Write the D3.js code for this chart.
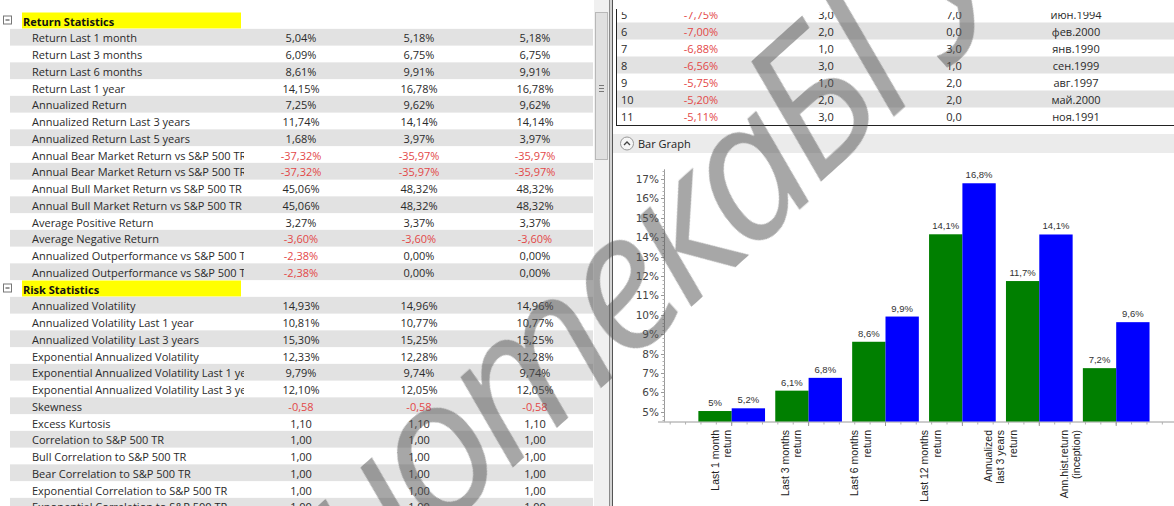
<!DOCTYPE html>
<html><head><meta charset="utf-8">
<script src="https://cdn.jsdelivr.net/npm/d3@7"></script>
<style>body{margin:0;background:#fff;}svg{display:block;}</style>
</head><body>
<script>
// ---------- DATA ----------
const returnLabels = ["Return Last 1 month","Return Last 3 months","Return Last 6 months","Return Last 1 year","Annualized Return","Annualized Return Last 3 years","Annualized Return Last 5 years","Annual Bear Market Return vs S&P 500 TR","Annual Bear Market Return vs S&P 500 TR","Annual Bull Market Return vs S&P 500 TR","Annual Bull Market Return vs S&P 500 TR","Average Positive Return","Average Negative Return","Annualized Outperformance vs S&P 500 TR","Annualized Outperformance vs S&P 500 TR"];
const returnCol1 = [5.04,6.09,8.61,14.15,7.25,11.74,1.68,-37.32,-37.32,45.06,45.06,3.27,-3.60,-2.38,-2.38];
const returnCol2 = [5.18,6.75,9.91,16.78,9.62,14.14,3.97,-35.97,-35.97,48.32,48.32,3.37,-3.60,0.00,0.00];
const returnCol3 = [5.18,6.75,9.91,16.78,9.62,14.14,3.97,-35.97,-35.97,48.32,48.32,3.37,-3.60,0.00,0.00];
const riskLabels = ["Annualized Volatility","Annualized Volatility Last 1 year","Annualized Volatility Last 3 years","Exponential Annualized Volatility","Exponential Annualized Volatility Last 1 year","Exponential Annualized Volatility Last 3 years","Skewness","Excess Kurtosis","Correlation to S&P 500 TR","Bull Correlation to S&P 500 TR","Bear Correlation to S&P 500 TR","Exponential Correlation to S&P 500 TR","Exponential Correlation to S&P 500 TR"];
const riskCol1 = [14.93,10.81,15.30,12.33,9.79,12.10,-0.58,1.10,1.00,1.00,1.00,1.00,1.00];
const riskCol2 = [14.96,10.77,15.25,12.28,9.74,12.05,-0.58,1.10,1.00,1.00,1.00,1.00,1.00];
const riskCol3 = [14.96,10.77,15.25,12.28,9.74,12.05,-0.58,1.10,1.00,1.00,1.00,1.00,1.00];
const riskIsPct = [true,true,true,true,true,true,false,false,false,false,false,false,false];

const ddIndex = [5,6,7,8,9,10,11];
const ddValue = [-7.75,-7.00,-6.88,-6.56,-5.75,-5.20,-5.11];
const ddCol3 = [3.0,2.0,1.0,3.0,1.0,2.0,3.0];
const ddCol4 = [7.0,0.0,3.0,1.0,2.0,2.0,0.0];
const ddDates = ["июн.1994","фев.2000","янв.1990","сен.1999","авг.1997","май.2000","ноя.1991"];

const categories = [["Last 1 month","return"],["Last 3 months","return"],["Last 6 months","return"],["Last 12 months","return"],["Annualized","last 3 years","return"],["Ann.hist.return","(inception)"]];
const greenValues = [5.04,6.09,8.61,14.15,11.74,7.25];
const blueValues  = [5.18,6.75,9.91,16.78,14.14,9.62];
const greenLabels = ["5%","6,1%","8,6%","14,1%","11,7%","7,2%"];
const blueLabels  = ["5,2%","6,8%","9,9%","16,8%","14,1%","9,6%"];
const yTicks = [5,6,7,8,9,10,11,12,13,14,15,16,17];

// ---------- SETUP ----------
const W = 1174, H = 506;
const loc = d3.formatLocale({decimal:",",thousands:" ",grouping:[3],currency:["",""],minus:"-"});
const f2 = loc.format(".2f"), f1 = loc.format(".1f");
const RED = "#e34848", TXT = "#2a2a2a", GRAY = "#e2e2e2";
const svg = d3.select("body").append("svg").attr("width",W).attr("height",H);
const defs = svg.append("defs");
defs.append("clipPath").attr("id","lblclip").append("rect").attr("x",0).attr("y",0).attr("width",244).attr("height",H);
defs.append("clipPath").attr("id","ddclip").append("rect").attr("x",613).attr("y",12).attr("width",W-613).attr("height",114);

// ---------- LEFT TABLE ----------
const rows = [];
rows.push({header:true,label:"Return Statistics"});
returnLabels.forEach((l,i)=>rows.push({label:l,v:[returnCol1[i],returnCol2[i],returnCol3[i]],pct:true}));
rows.push({header:true,label:"Risk Statistics"});
riskLabels.forEach((l,i)=>rows.push({label:l,v:[riskCol1[i],riskCol2[i],riskCol3[i]],pct:riskIsPct[i]}));
const rowY = d3.scaleLinear().domain([0,1]).range([20.5,37.25]);
const colX = d3.scaleOrdinal().domain([0,1,2]).range([301,419,535]);
const left = svg.append("g").attr("font-family","'Open Sans',sans-serif").attr("font-size",11);
const rg = left.selectAll("g.row").data(rows).join("g").attr("class","row");
rg.each(function(d,i){
  const g = d3.select(this);
  const cy = rowY(i);
  if(i%2===1) g.append("rect").attr("x",10).attr("width",583).attr("y",cy-8.4).attr("height",16.75).attr("fill",GRAY);
  if(d.header){
    g.append("rect").attr("x",22).attr("y",cy-8).attr("width",219).attr("height",16).attr("fill","#ffff00");
    g.append("rect").attr("x",3.5).attr("y",cy-4.5).attr("width",8).attr("height",8).attr("fill","#fff").attr("stroke","#777");
    g.append("line").attr("x1",5.5).attr("x2",9.5).attr("y1",cy-0.5).attr("y2",cy-0.5).attr("stroke","#333");
    g.append("text").attr("x",23).attr("y",cy+0.5).attr("dominant-baseline","central").attr("font-weight","bold").attr("fill","#111").text(d.label);
  } else {
    g.append("text").attr("x",32).attr("y",cy+0.5).attr("dominant-baseline","central").attr("fill",TXT).attr("clip-path","url(#lblclip)").text(d.label);
    d.v.forEach((v,j)=>{
      g.append("text").attr("x",colX(j)).attr("y",cy+0.5).attr("dominant-baseline","central").attr("text-anchor","middle")
        .attr("fill",v<0?RED:TXT).text(d.pct? f2(v)+"%" : f2(v));
    });
  }
});

// scrollbar + divider
svg.append("rect").attr("x",594).attr("y",0).attr("width",15).attr("height",H).attr("fill","#f0f0f0");
svg.append("rect").attr("x",595.5).attr("y",12.5).attr("width",12).attr("height",147).attr("fill","#e0e0e0").attr("stroke","#b8b8b8");
[85,88,91].forEach(y=>svg.append("line").attr("x1",599).attr("x2",604).attr("y1",y+0.5).attr("y2",y+0.5).attr("stroke","#777"));
svg.append("rect").attr("x",609).attr("y",0).attr("width",4).attr("height",H).attr("fill","#d4d4d4");
svg.append("line").attr("x1",609.5).attr("x2",609.5).attr("y1",0).attr("y2",H).attr("stroke","#8a8a8a");
svg.append("line").attr("x1",612.5).attr("x2",612.5).attr("y1",0).attr("y2",H).attr("stroke","#555");

// ---------- RIGHT TOP TABLE ----------
const ddY = d3.scaleLinear().domain([0,1]).range([14,31]);
const dd = svg.append("g").attr("font-family","'Open Sans',sans-serif").attr("font-size",11).attr("clip-path","url(#ddclip)");
ddIndex.forEach((idx,i)=>{
  const cy = ddY(i);
  if(i%2===1) dd.append("rect").attr("x",617).attr("y",cy-8.5).attr("width",W-617).attr("height",17).attr("fill",GRAY);
  dd.append("text").attr("x",621).attr("y",cy).attr("dominant-baseline","central").attr("fill",TXT).text(idx);
  dd.append("text").attr("x",701).attr("y",cy).attr("dominant-baseline","central").attr("text-anchor","middle").attr("fill",RED).text(f2(ddValue[i])+"%");
  dd.append("text").attr("x",826).attr("y",cy).attr("dominant-baseline","central").attr("text-anchor","middle").attr("fill",TXT).text(f1(ddCol3[i]));
  dd.append("text").attr("x",954).attr("y",cy).attr("dominant-baseline","central").attr("text-anchor","middle").attr("fill",TXT).text(f1(ddCol4[i]));
  dd.append("text").attr("x",1076).attr("y",cy).attr("dominant-baseline","central").attr("text-anchor","middle").attr("fill",TXT).text(ddDates[i]);
});
svg.append("line").attr("x1",616.5).attr("x2",616.5).attr("y1",9).attr("y2",125.5).attr("stroke","#222");
svg.append("line").attr("x1",616).attr("x2",W).attr("y1",125.5).attr("y2",125.5).attr("stroke","#222");

// Bar Graph header
svg.append("rect").attr("x",613).attr("y",134).attr("width",W-613).attr("height",19).attr("fill","#ebebeb");
svg.append("circle").attr("cx",627).attr("cy",143.5).attr("r",6.5).attr("fill","#f6f6f6").attr("stroke","#999");
svg.append("path").attr("d","M624,145 L627,142 L630,145").attr("fill","none").attr("stroke","#444").attr("stroke-width",1.3);
svg.append("text").attr("x",638).attr("y",143.5).attr("dominant-baseline","central").attr("font-family","'Open Sans',sans-serif").attr("font-size",11).attr("fill","#222").text("Bar Graph");

// ---------- BAR CHART ----------
const y = d3.scaleLinear().domain([4.5,17.5]).range([421.5,169.3]);
const x0 = d3.scaleBand().domain(d3.range(categories.length)).range([693.25,1154.65]).paddingInner(0.133).paddingOuter(0.0665);
const x1 = d3.scaleBand().domain(["g","b"]).range([0,x0.bandwidth()]);
const xLin = d3.scaleLinear().domain([0,6]).range([693.25,1154.65]);
const xLbl = d3.scalePoint().domain(d3.range(categories.length)).range([721,1070]);
const chart = svg.append("g");
const axisCol = "#9a9a9a";

// y axis
chart.append("line").attr("x1",664.5).attr("x2",664.5).attr("y1",y(17.5)).attr("y2",y(4.5)).attr("stroke",axisCol);
d3.range(4.6,17.5,0.2).forEach(v=>chart.append("line").attr("x1",662.5).attr("x2",664.5).attr("y1",Math.round(y(v))+0.5).attr("y2",Math.round(y(v))+0.5).attr("stroke","#b0b0b0"));
yTicks.forEach(t=>{
  chart.append("line").attr("x1",661).attr("x2",664.5).attr("y1",Math.round(y(t))+0.5).attr("y2",Math.round(y(t))+0.5).attr("stroke",axisCol);
  chart.append("text").attr("x",659).attr("y",y(t)).attr("dominant-baseline","central").attr("text-anchor","end")
   .attr("font-family","'DejaVu Sans',sans-serif").attr("font-size",10.5).attr("fill","#444").text(t+"%");
});
// x axis
chart.append("line").attr("x1",658).attr("x2",W).attr("y1",422).attr("y2",422).attr("stroke",axisCol);
d3.range(-0.3,7,0.2).forEach(v=>{
  const xx = xLin(v);
  if(xx<664||xx>W) return;
  chart.append("line").attr("x1",xx).attr("x2",xx).attr("y1",422).attr("y2",424.5).attr("stroke","#b0b0b0");
});
d3.range(6).forEach(i=>{
  const xx = x0(i)+x0.bandwidth()/2;
  chart.append("line").attr("x1",xx).attr("x2",xx).attr("y1",422).attr("y2",426).attr("stroke",axisCol);
});
// bars
const groups = chart.selectAll("g.grp").data(d3.range(6)).join("g").attr("transform",i=>`translate(${x0(i)},0)`);
groups.append("rect").attr("x",x1("g")).attr("width",x1.bandwidth()).attr("y",i=>y(greenValues[i])).attr("height",i=>y(4.5)-y(greenValues[i])).attr("fill","#007f00");
groups.append("rect").attr("x",x1("b")).attr("width",x1.bandwidth()).attr("y",i=>y(blueValues[i])).attr("height",i=>y(4.5)-y(blueValues[i])).attr("fill","#0000ff");
groups.append("text").attr("x",x1("g")+x1.bandwidth()/2).attr("y",i=>y(greenValues[i])-5).attr("text-anchor","middle")
  .attr("font-family","'Liberation Sans',Arial,sans-serif").attr("font-size",9.5).attr("fill","#333").text(i=>greenLabels[i]);
groups.append("text").attr("x",x1("b")+x1.bandwidth()/2).attr("y",i=>y(blueValues[i])-5).attr("text-anchor","middle")
  .attr("font-family","'Liberation Sans',Arial,sans-serif").attr("font-size",9.5).attr("fill","#333").text(i=>blueLabels[i]);
// category labels
categories.forEach((lines,i)=>{
  const n = lines.length;
  lines.forEach((ln,j)=>{
    const cx = xLbl(i) + (j-(n-1)/2)*12.6;
    chart.append("text").attr("transform",`translate(${cx},430) rotate(-90)`).attr("text-anchor","end").attr("dominant-baseline","central")
      .attr("font-family","'Liberation Sans',Arial,sans-serif").attr("font-size",10.5).attr("fill","#222").text(ln);
  });
});

// ---------- WATERMARK ----------
const wm = svg.append("g").attr("font-family","'Open Sans',sans-serif").attr("font-style","italic").attr("font-size",190)
  .attr("letter-spacing",-10).attr("fill","#555").attr("opacity",0.52);
wm.append("text").attr("transform","translate(820,191) rotate(-42)").attr("text-anchor","end").text("Библиотека");
wm.append("text").attr("transform","translate(815,187) rotate(-42)").attr("text-anchor","start").text("БГУИР");
</script>
</body></html>
